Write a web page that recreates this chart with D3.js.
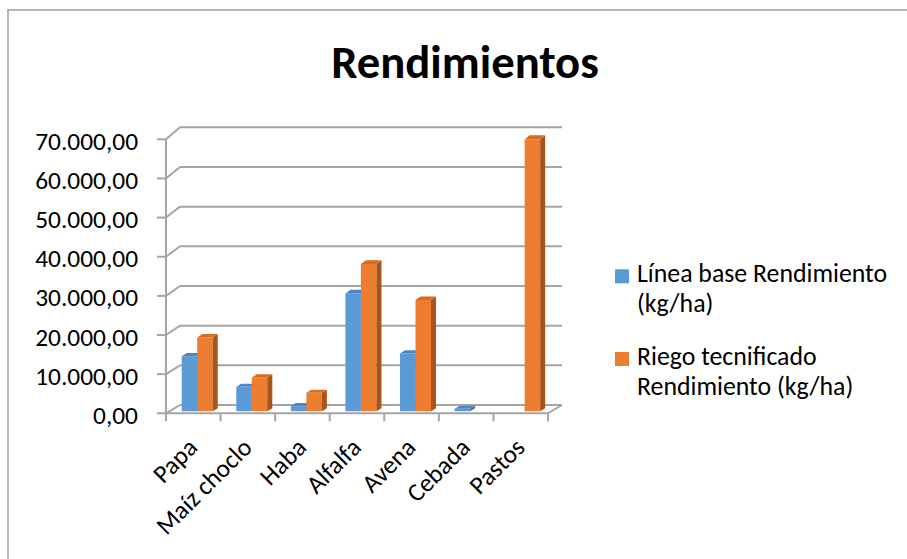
<!DOCTYPE html>
<html><head><meta charset="utf-8">
<script src="https://cdn.jsdelivr.net/npm/d3@7"></script>
<style>
body{margin:0;background:#fff}
text{font-family:Carlito,Calibri,Lato,sans-serif;fill:#000}
</style></head>
<body><svg id="chart" width="907" height="559"></svg>
<script>
// Yield per crop (kg/ha)
const categories = ["Papa","Maíz choclo","Haba","Alfalfa","Avena","Cebada","Pastos"];
const seriesNames = ["Línea base Rendimiento (kg/ha)","Riego tecnificado Rendimiento (kg/ha)"];
const lineaBase = [14000, 6200, 1300, 30000, 14700, 600, 0];
const riegoTecnificado = [18800, 8600, 4700, 37500, 28300, 0, 69200];
const yTicks = [0,10000,20000,30000,40000,50000,60000,70000];
const yTickLabels = ["0,00","10.000,00","20.000,00","30.000,00","40.000,00","50.000,00","60.000,00","70.000,00"];

const colors = [
  {front:"#5B9BD5", top:"#4C87C2", side:"#3F70A1"},
  {front:"#ED7D31", top:"#D86B22", side:"#A9541B"}
];
const gridColor = "#A5A5A5";

const svg = d3.select("#chart");

// Outer chart frame
svg.append("path").attr("d","M8,559 V10 H907")
  .attr("fill","none").attr("stroke","#A0A0A0").attr("stroke-width",1.5);

// Title
svg.append("text").attr("x",465).attr("y",78).attr("text-anchor","middle")
  .style("font-size","46.7px").style("font-weight","700").text("Rendimientos");

// 3D projection: front plane plus a receding depth (t from 0 front to 1 back wall)
const depthDx = 14;
const x = d3.scaleBand().domain(categories).range([166,548]);
const yFront = d3.scaleLinear().domain([0,70000]).range([413.3,139.3]);
const yBack = d3.scaleLinear().domain([0,70000]).range([405,127.3]);
const proj = (px, v, t) => [px + depthDx*t, yFront(v)*(1-t) + yBack(v)*t];

const g = svg.append("g");

// Back wall gridlines
g.selectAll("line.grid").data(yTicks).join("line").attr("class","grid")
  .attr("x1", d => proj(166,d,1)[0]).attr("x2", d => proj(548,d,1)[0])
  .attr("y1", d => proj(166,d,1)[1]).attr("y2", d => proj(548,d,1)[1])
  .attr("stroke",gridColor).attr("stroke-width",2);

// Side wall diagonals from the value axis to the back wall
g.selectAll("line.diag").data(yTicks).join("line").attr("class","diag")
  .attr("x1", d => proj(166,d,0)[0]).attr("y1", d => proj(166,d,0)[1])
  .attr("x2", d => proj(166,d,1)[0]).attr("y2", d => proj(166,d,1)[1])
  .attr("stroke",gridColor).attr("stroke-width",2);

// Floor: front edge and right edge
const f0 = proj(166,0,0), f1 = proj(548,0,0), f2 = proj(548,0,1);
g.append("path").attr("d",`M${f0[0]},${f0[1]} L${f1[0]},${f1[1]} L${f2[0]},${f2[1]}`)
  .attr("fill","none").attr("stroke",gridColor).attr("stroke-width",2);

// Value axis line and ticks
g.append("line").attr("x1",166).attr("x2",166)
  .attr("y1",yFront(70000)).attr("y2",yFront(0)+7)
  .attr("stroke",gridColor).attr("stroke-width",2);
g.selectAll("line.ytick").data(yTicks).join("line").attr("class","ytick")
  .attr("x1",157).attr("x2",166).attr("y1",d=>yFront(d)).attr("y2",d=>yFront(d))
  .attr("stroke",gridColor).attr("stroke-width",2);

// Category axis ticks at band boundaries
const bounds = categories.map(c => x(c)).concat([548]);
g.selectAll("line.xtick").data(bounds).join("line").attr("class","xtick")
  .attr("x1",d=>d).attr("x2",d=>d).attr("y1",yFront(0)).attr("y2",yFront(0)+8)
  .attr("stroke",gridColor).attr("stroke-width",2);

// Tick labels
svg.selectAll("text.ylab").data(yTicks).join("text").attr("class","ylab")
  .attr("x",138).attr("y",(d,i)=>yFront(d)+10.5).attr("text-anchor","end")
  .style("font-size","25.4px").text((d,i)=>yTickLabels[i]);

svg.selectAll("text.xlab").data(categories).join("text").attr("class","xlab")
  .attr("text-anchor","end")
  .attr("transform", d => `translate(${x(d)+x.bandwidth()/2+5.5},449) rotate(-45)`)
  .style("font-size","25.4px").text(d=>d);

// Columns: each bar is a box placed between depth t0 and t1
const barOffset = 12.2, barW = 15.5, t0 = 0.25, t1 = 0.61;
const bars = [];
categories.forEach((c,i) => {
  [lineaBase[i], riegoTecnificado[i]].forEach((v,s) => {
    if (v > 0) bars.push({c, v, s, xl: x(c) + barOffset + s*barW});
  });
});
const pts = a => a.map(p => p.join(",")).join(" ");
const barG = g.selectAll("g.bar").data(bars).join("g").attr("class","bar");
barG.append("polygon").attr("fill",d=>colors[d.s].front)
  .attr("points", d => pts([proj(d.xl,0,t0),proj(d.xl,d.v,t0),proj(d.xl+barW,d.v,t0),proj(d.xl+barW,0,t0)]));
barG.append("polygon").attr("fill",d=>colors[d.s].side)
  .attr("points", d => pts([proj(d.xl+barW,0,t0),proj(d.xl+barW,d.v,t0),proj(d.xl+barW,d.v,t1),proj(d.xl+barW,0,t1)]));
barG.append("polygon").attr("fill",d=>colors[d.s].top)
  .attr("points", d => pts([proj(d.xl,d.v,t0),proj(d.xl+barW,d.v,t0),proj(d.xl+barW,d.v,t1),proj(d.xl,d.v,t1)]));

// Legend
const legend = svg.append("g");
const legendRows = [
  {s:0, lines:["Línea base Rendimiento","(kg/ha)"], y:282.3},
  {s:1, lines:["Riego tecnificado","Rendimiento (kg/ha)"], y:365}
];
legendRows.forEach(r => {
  legend.append("rect").attr("x",615).attr("y",r.y-13).attr("width",14).attr("height",14)
    .attr("fill",colors[r.s].front);
  const t = legend.append("text").attr("x",637).attr("y",r.y).style("font-size","25.8px");
  r.lines.forEach((l,k) => t.append("tspan").attr("x",637).attr("dy",k?30:0).text(l));
});
</script></body></html>
